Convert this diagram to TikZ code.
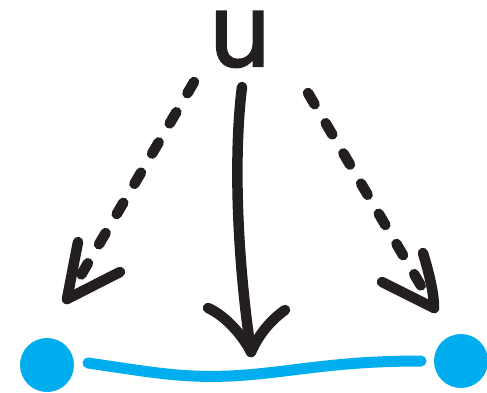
\documentclass[tikz,border=0pt]{standalone}
\usepackage{fontspec}
\newfontfamily\ufont[FakeBold=2]{DejaVu Sans}
\definecolor{ink}{HTML}{231F20}
\definecolor{dotblue}{HTML}{00AEEF}
\begin{document}
\begin{tikzpicture}[x=1pt,y=-1pt,
  stroke/.style={draw=ink,line width=10.5pt,line cap=round,line join=round},
  dashstroke/.style={stroke,dash pattern=on 13pt off 22pt},
  vertex/.style={circle,fill=dotblue,minimum size=54pt,inner sep=0pt},
  edge/.style={draw=dotblue,line width=11pt,line cap=round}]
\useasboundingbox (0,0) rectangle (487,393);
\node[font=\ufont\fontsize{100}{100}\selectfont, text=ink, anchor=base, inner sep=0pt, text height=56pt, text depth=0pt] (u) at (240,66) {u};
\node[vertex] (a) at (47,365) {};
\node[vertex] (b) at (461,361) {};
% blue edge
\coordinate (e1) at (88,363);
\coordinate (e2) at (421,361);
\draw[edge] (e1) .. controls (150,372) and (180,378) .. (230,376) .. controls (290,373) and (330,361) .. (e2);
% left dashed arrow
\coordinate (sL) at (194,82);
\coordinate (tL) at (67,299);
\draw[dashstroke] (sL) -- (tL);
\draw[stroke] (tL) ++(11,-57) -- (tL) -- ++(53,-27);
% middle arrow
\coordinate (sM) at (242,87);
\coordinate (tM) at (251,352);
\draw[stroke] (sM) .. controls (234,150) and (236,250) .. (tM);
\draw[stroke] (tM) ++(-43,-44) .. controls +(18,8) and +(-8,-16) .. (tM) .. controls +(8,-18) and +(-14,10) .. ++(34,-42);
% right dashed arrow
\coordinate (sR) at (308,93);
\coordinate (tR) at (434,308);
\draw[dashstroke] (sR) -- (tR);
\draw[stroke] (tR) ++(-11,-55) .. controls +(6,20) and +(0,-15) .. (tR) -- ++(-52,-26);
\end{tikzpicture}
\end{document}
